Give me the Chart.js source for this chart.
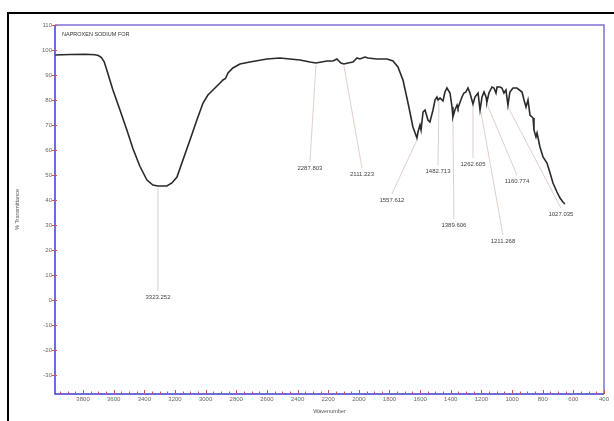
<!DOCTYPE html>
<html>
<head>
<meta charset="utf-8">
<script src="https://cdn.jsdelivr.net/npm/chart.js@4.4.0/dist/chart.umd.min.js"></script>
<style>
html, body { margin: 0; padding: 0; background: #fff; }
#wrap { position: relative; width: 614px; height: 421px; overflow: hidden; }
#frame { position: absolute; left: 7px; top: 12px; width: 700px; height: 500px; border-top: 2px solid #000; border-left: 2px solid #000; }
canvas { position: absolute; left: 0; top: 0; }
</style>
</head>
<body>
<div id="wrap">
  <div id="frame"></div>
  <canvas id="irChart" width="614" height="421"></canvas>
</div>
<script>
// Spectrum (wavenumber, % transmittance)
const wavenumbers = [
  3983, 3885, 3787, 3722, 3700, 3680, 3662, 3645, 3605, 3559, 3514, 3474, 3429, 3383, 3344, 3311,
  3253, 3220, 3187, 3148, 3102, 3057, 3017, 2985, 2939, 2906, 2887, 2870, 2854, 2822, 2776,
  2711, 2600, 2515, 2384, 2319, 2280, 2208, 2169, 2143, 2117, 2097, 2071, 2038, 2012, 1993,
  1960, 1940, 1882, 1816, 1777, 1745, 1712, 1679, 1647, 1621, 1614, 1601, 1594, 1581, 1568,
  1549, 1536, 1516, 1503, 1490, 1483, 1470, 1451, 1438, 1425, 1405, 1392, 1386, 1373, 1359,
  1353, 1327, 1314, 1301, 1288, 1275, 1255, 1242, 1222, 1209, 1196, 1183, 1170, 1164, 1151,
  1131, 1118, 1105, 1098, 1079, 1066, 1053, 1040, 1027, 1014, 994, 968, 935, 922, 909,
  896, 883, 863, 857, 844, 837, 818, 798, 772, 752, 733, 707, 687, 668, 655
];
const transmittance = [
  98.0, 98.2, 98.3, 98.1, 97.8, 97.0, 95.3, 92.0, 84.0, 76.0, 68.0, 60.5, 53.5, 48.0, 46.0, 45.6,
  45.6, 46.8, 49.2, 56.0, 64.0, 72.0, 78.8, 82.0, 84.8, 86.8, 88.0, 88.6, 90.8, 92.8, 94.4,
  95.2, 96.4, 96.8, 96.0, 95.2, 94.8, 95.6, 95.6, 96.4, 94.8, 94.4, 94.8, 95.2, 96.8, 96.4,
  97.2, 96.8, 96.4, 96.4, 95.6, 93.2, 88.0, 78.8, 69.2, 64.8, 67.2, 70.0, 68.0, 75.2, 76.0,
  72.0, 71.2, 76.0, 80.0, 81.2, 80.0, 80.8, 79.6, 83.2, 84.8, 82.8, 77.2, 73.2, 76.0, 78.0,
  76.8, 81.2, 82.8, 83.2, 84.8, 82.8, 78.4, 81.2, 82.8, 76.0, 81.2, 83.2, 81.2, 79.2, 82.8,
  85.2, 84.8, 82.8, 85.2, 85.2, 84.8, 82.8, 84.0, 78.0, 83.2, 84.8, 84.8, 83.2, 80.0, 77.2,
  80.0, 74.0, 72.8, 68.0, 65.2, 66.8, 61.2, 57.2, 54.8, 50.8, 46.8, 43.2, 40.8, 39.2, 38.4
];

// Axis tick labels
const xTickValues = [3800, 3600, 3400, 3200, 3000, 2800, 2600, 2400, 2200, 2000, 1800, 1600, 1400, 1200, 1000, 800, 600, 400];
const yTickValues = [110, 100, 90, 80, 70, 60, 50, 40, 30, 20, 10, 0, -10, -20, -30];

// Peak labels and where their leader lines touch the trace
const peakLabels = ['3323.252', '2287.803', '2111.223', '1557.612', '1482.713', '1389.606', '1262.605', '1211.268', '1160.774', '1027.035'];
const peakAt = [3311, 2280, 2097, 1621, 1477, 1386, 1255, 1203, 1164, 1027];
const peakValue = [45.6, 94.8, 94.4, 64.8, 80.4, 73.2, 78.4, 76.0, 79.2, 78.0];
// label offsets from the touch point, in pixels
const labelOffsets = [[0, 111], [-6, 105], [18, 110], [-25, 62], [-1, 72], [1, 108], [0, 60], [22, 131], [30, 79], [53, 109]];

const titleText = 'NAPROXEN SODIUM FOR';
const FONT = 'Liberation Sans, Arial, sans-serif';

const points = wavenumbers.map((w, i) => ({ x: w, y: transmittance[i] }));

// Leader lines, peak labels, frame and tick marks
const peakPlugin = {
  id: 'peaks',
  beforeDatasetsDraw(chart) {
    const ctx = chart.ctx;
    const xs = chart.scales.x, ys = chart.scales.y;
    ctx.save();
    ctx.strokeStyle = 'rgba(210,188,182,0.9)';
    ctx.lineWidth = 0.8;
    peakAt.forEach((w, i) => {
      const px = xs.getPixelForValue(w);
      const py = ys.getPixelForValue(peakValue[i]);
      const tx = px + labelOffsets[i][0];
      const ty = py + labelOffsets[i][1];
      ctx.beginPath();
      ctx.moveTo(px, py + 2);
      ctx.lineTo(tx, ty - 6);
      ctx.stroke();
    });
    ctx.restore();
  },
  afterDatasetsDraw(chart) {
    const ctx = chart.ctx;
    const xs = chart.scales.x, ys = chart.scales.y;
    const area = chart.chartArea;
    ctx.save();
    ctx.fillStyle = '#444';
    ctx.font = '6px ' + FONT;
    ctx.textAlign = 'center';
    ctx.textBaseline = 'middle';
    peakAt.forEach((w, i) => {
      const px = xs.getPixelForValue(w);
      const py = ys.getPixelForValue(peakValue[i]);
      ctx.fillText(peakLabels[i], px + labelOffsets[i][0], py + labelOffsets[i][1]);
    });

    // sample name in the top-left corner
    ctx.textAlign = 'left';
    ctx.font = '5.5px ' + FONT;
    ctx.fillStyle = '#333';
    ctx.fillText(titleText, area.left + 7, area.top + 9);

    // plot frame
    ctx.lineWidth = 1.5;
    ctx.strokeStyle = '#7e70d4';
    ctx.beginPath();
    ctx.moveTo(area.left, area.top);
    ctx.lineTo(area.right, area.top);
    ctx.lineTo(area.right, area.bottom);
    ctx.stroke();
    ctx.strokeStyle = '#3c3cd8';
    ctx.beginPath();
    ctx.moveTo(area.left, area.top);
    ctx.lineTo(area.left, area.bottom);
    ctx.lineTo(area.right, area.bottom);
    ctx.stroke();

    // red tick marks
    ctx.strokeStyle = '#d2504a';
    ctx.lineWidth = 1;
    for (let v = 400; v <= xs.max; v += 50) {
      const px = Math.round(xs.getPixelForValue(v)) + 0.5;
      const len = v % 200 === 0 ? 4 : 2.5;
      ctx.beginPath();
      ctx.moveTo(px, area.bottom);
      ctx.lineTo(px, area.bottom - len);
      ctx.stroke();
    }
    ys.ticks.forEach(t => {
      const py = Math.round(ys.getPixelForValue(t.value)) + 0.5;
      ctx.beginPath();
      ctx.moveTo(area.left - 3, py);
      ctx.lineTo(area.left + 2, py);
      ctx.stroke();
    });
    ctx.restore();
  }
};

function createSpectrumChart() {
  const ctx = document.getElementById('irChart');
  new Chart(ctx, {
    type: 'line',
    data: {
      datasets: [{
        data: points,
        borderColor: '#2a2a2a',
        borderWidth: 1.6,
        pointRadius: 0,
        tension: 0,
        fill: false
      }]
    },
    options: {
      responsive: false,
      animation: false,
      layout: { padding: { top: 25, right: 10, left: 0, bottom: 0 } },
      plugins: {
        legend: { display: false },
        tooltip: { enabled: false }
      },
      scales: {
        x: {
          type: 'linear',
          reverse: true,
          min: 400,
          max: 3983,
          grid: { display: false, drawTicks: false },
          border: { display: false },
          afterBuildTicks: scale => { scale.ticks = xTickValues.map(v => ({ value: v })); },
          ticks: {
            maxRotation: 0,
            autoSkip: false,
            padding: 2,
            color: '#666',
            font: { family: FONT, size: 6 },
            callback: v => String(v)
          },
          title: {
            display: true,
            text: 'Wavenumber',
            color: '#555',
            font: { family: FONT, size: 5.5 },
            padding: { top: 0, bottom: 6 }
          },
          afterFit: scale => { scale.height = 27; }
        },
        y: {
          min: -37.6,
          max: 110,
          grid: { display: false, drawTicks: false },
          border: { display: false },
          afterBuildTicks: scale => { scale.ticks = yTickValues.map(v => ({ value: v })); },
          ticks: {
            autoSkip: false,
            padding: 3,
            color: '#666',
            font: { family: FONT, size: 6 },
            callback: v => String(v)
          },
          title: {
            display: true,
            text: '% Transmittance',
            color: '#555',
            font: { family: FONT, size: 5.5 },
            padding: { top: 14, bottom: 0 }
          },
          afterFit: scale => { scale.width = 55; }
        }
      }
    },
    plugins: [peakPlugin]
  });
}

window.addEventListener('load', createSpectrumChart);
</script>
</body>
</html>
